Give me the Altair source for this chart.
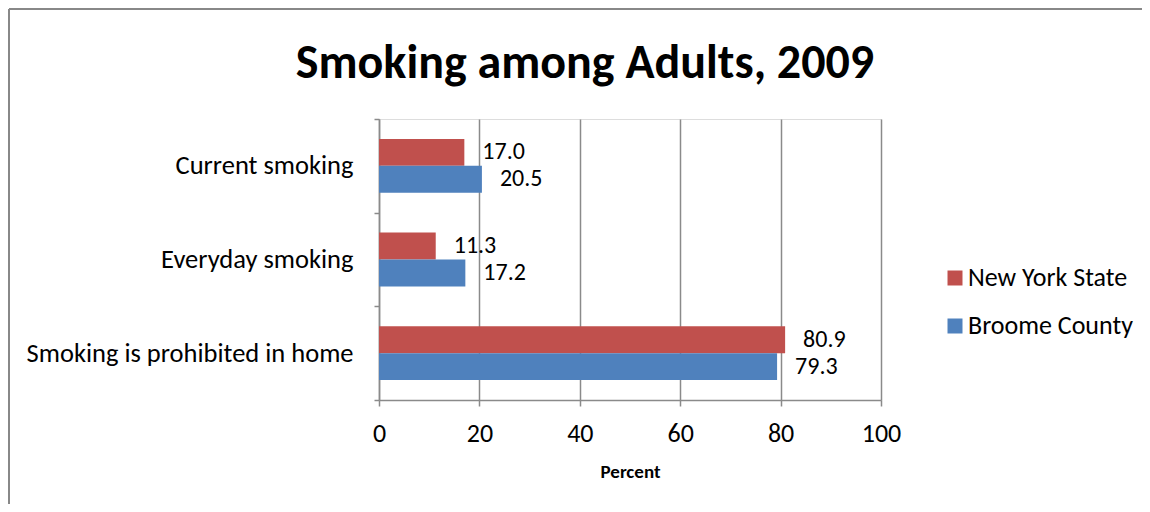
import altair as alt
import pandas as pd

title_text = "Smoking among Adults, 2009"
categories = ["Current smoking", "Everyday smoking", "Smoking is prohibited in home"]
series = ["New York State", "Broome County"]
new_york = [17.0, 11.3, 80.9]
broome = [20.5, 17.2, 79.3]
colors = ["#C0504D", "#4F81BD"]
x_ticks = [0, 20, 40, 60, 80, 100]

rows = []
for c, ny, bc in zip(categories, new_york, broome):
    rows.append({"cat": c, "series": series[0], "value": ny})
    rows.append({"cat": c, "series": series[1], "value": bc})
df = pd.DataFrame(rows)
df["label"] = df["value"].map(lambda v: f"{v:.1f}")

FONT = "Carlito, Calibri, Lato, sans-serif"
GRID = "#8a8a8a"
W, H = 502, 281
PAD = {"left": 371, "top": 111, "right": 261, "bottom": 104}

x = alt.X(
    "value:Q",
    title="Percent",
    scale=alt.Scale(domain=[0, 100], nice=False),
    axis=alt.Axis(
        values=x_ticks, grid=True, gridColor=GRID, gridWidth=1.5,
        domainColor=GRID, domainWidth=1.5, tickColor=GRID, tickWidth=1.5,
        tickSize=6, labelFont=FONT, labelFontSize=26, labelColor="#000",
        labelFlush=False, labelPadding=14, titleFont=FONT, titleFontSize=19,
        titleFontWeight="bold", titleColor="#000", titlePadding=16,
    ),
)
y = alt.Y(
    "cat:N", sort=categories, title=None,
    scale=alt.Scale(paddingInner=0, paddingOuter=0),
    axis=alt.Axis(
        tickBand="extent", grid=False, domainColor=GRID, domainWidth=1.5,
        tickColor=GRID, tickWidth=1.5, tickSize=5, labelFont=FONT,
        labelFontSize=26.5, labelColor="#000", labelPadding=21, labelLimit=450,
    ),
)
yoff = alt.YOffset(
    "series:N", sort=series,
    scale=alt.Scale(domain=series, paddingInner=0, paddingOuter=0.74),
)
color = alt.Color(
    "series:N",
    scale=alt.Scale(domain=series, range=colors),
    legend=alt.Legend(
        title=None, orient="none", legendX=563, legendY=146, padding=0,
        symbolType="square", symbolSize=225, symbolStrokeWidth=0,
        labelFont=FONT, labelFontSize=26, labelColor="#000", rowPadding=22,
        labelOffset=0, labelLimit=400,
    ),
)

base = alt.Chart(df)
bars = base.mark_bar().encode(x=x, y=y, yOffset=yoff, color=color)
labels = base.mark_text(
    align="left", baseline="middle", dx=18, font=FONT, fontSize=24, color="#000"
).encode(x=x, y=y, yOffset=yoff, text="label:N")

title_df = pd.DataFrame({"t": [title_text]})
title = alt.Chart(title_df).mark_text(
    font=FONT, fontSize=48, fontWeight="bold", align="center",
    baseline="alphabetic", color="#000",
).encode(text="t:N", x=alt.value(206), y=alt.value(-41))

frame_df = pd.DataFrame({"k": [0]})
frame_left = alt.Chart(frame_df).mark_rule(color="#888", strokeWidth=2).encode(
    x=alt.value(-370), y=alt.value(-110), y2=alt.value(H + PAD["bottom"])
)
frame_top = alt.Chart(frame_df).mark_rule(color="#888", strokeWidth=2).encode(
    x=alt.value(-370), x2=alt.value(W + PAD["right"]), y=alt.value(-110)
)

chart = alt.layer(bars, labels, title, frame_left, frame_top).properties(
    width=W, height=H,
    autosize=alt.AutoSizeParams(type="none"),
    padding=PAD,
).configure_view(stroke=None).configure(background="white")

chart.save("out.html", embed_options={"renderer": "svg", "actions": False})
